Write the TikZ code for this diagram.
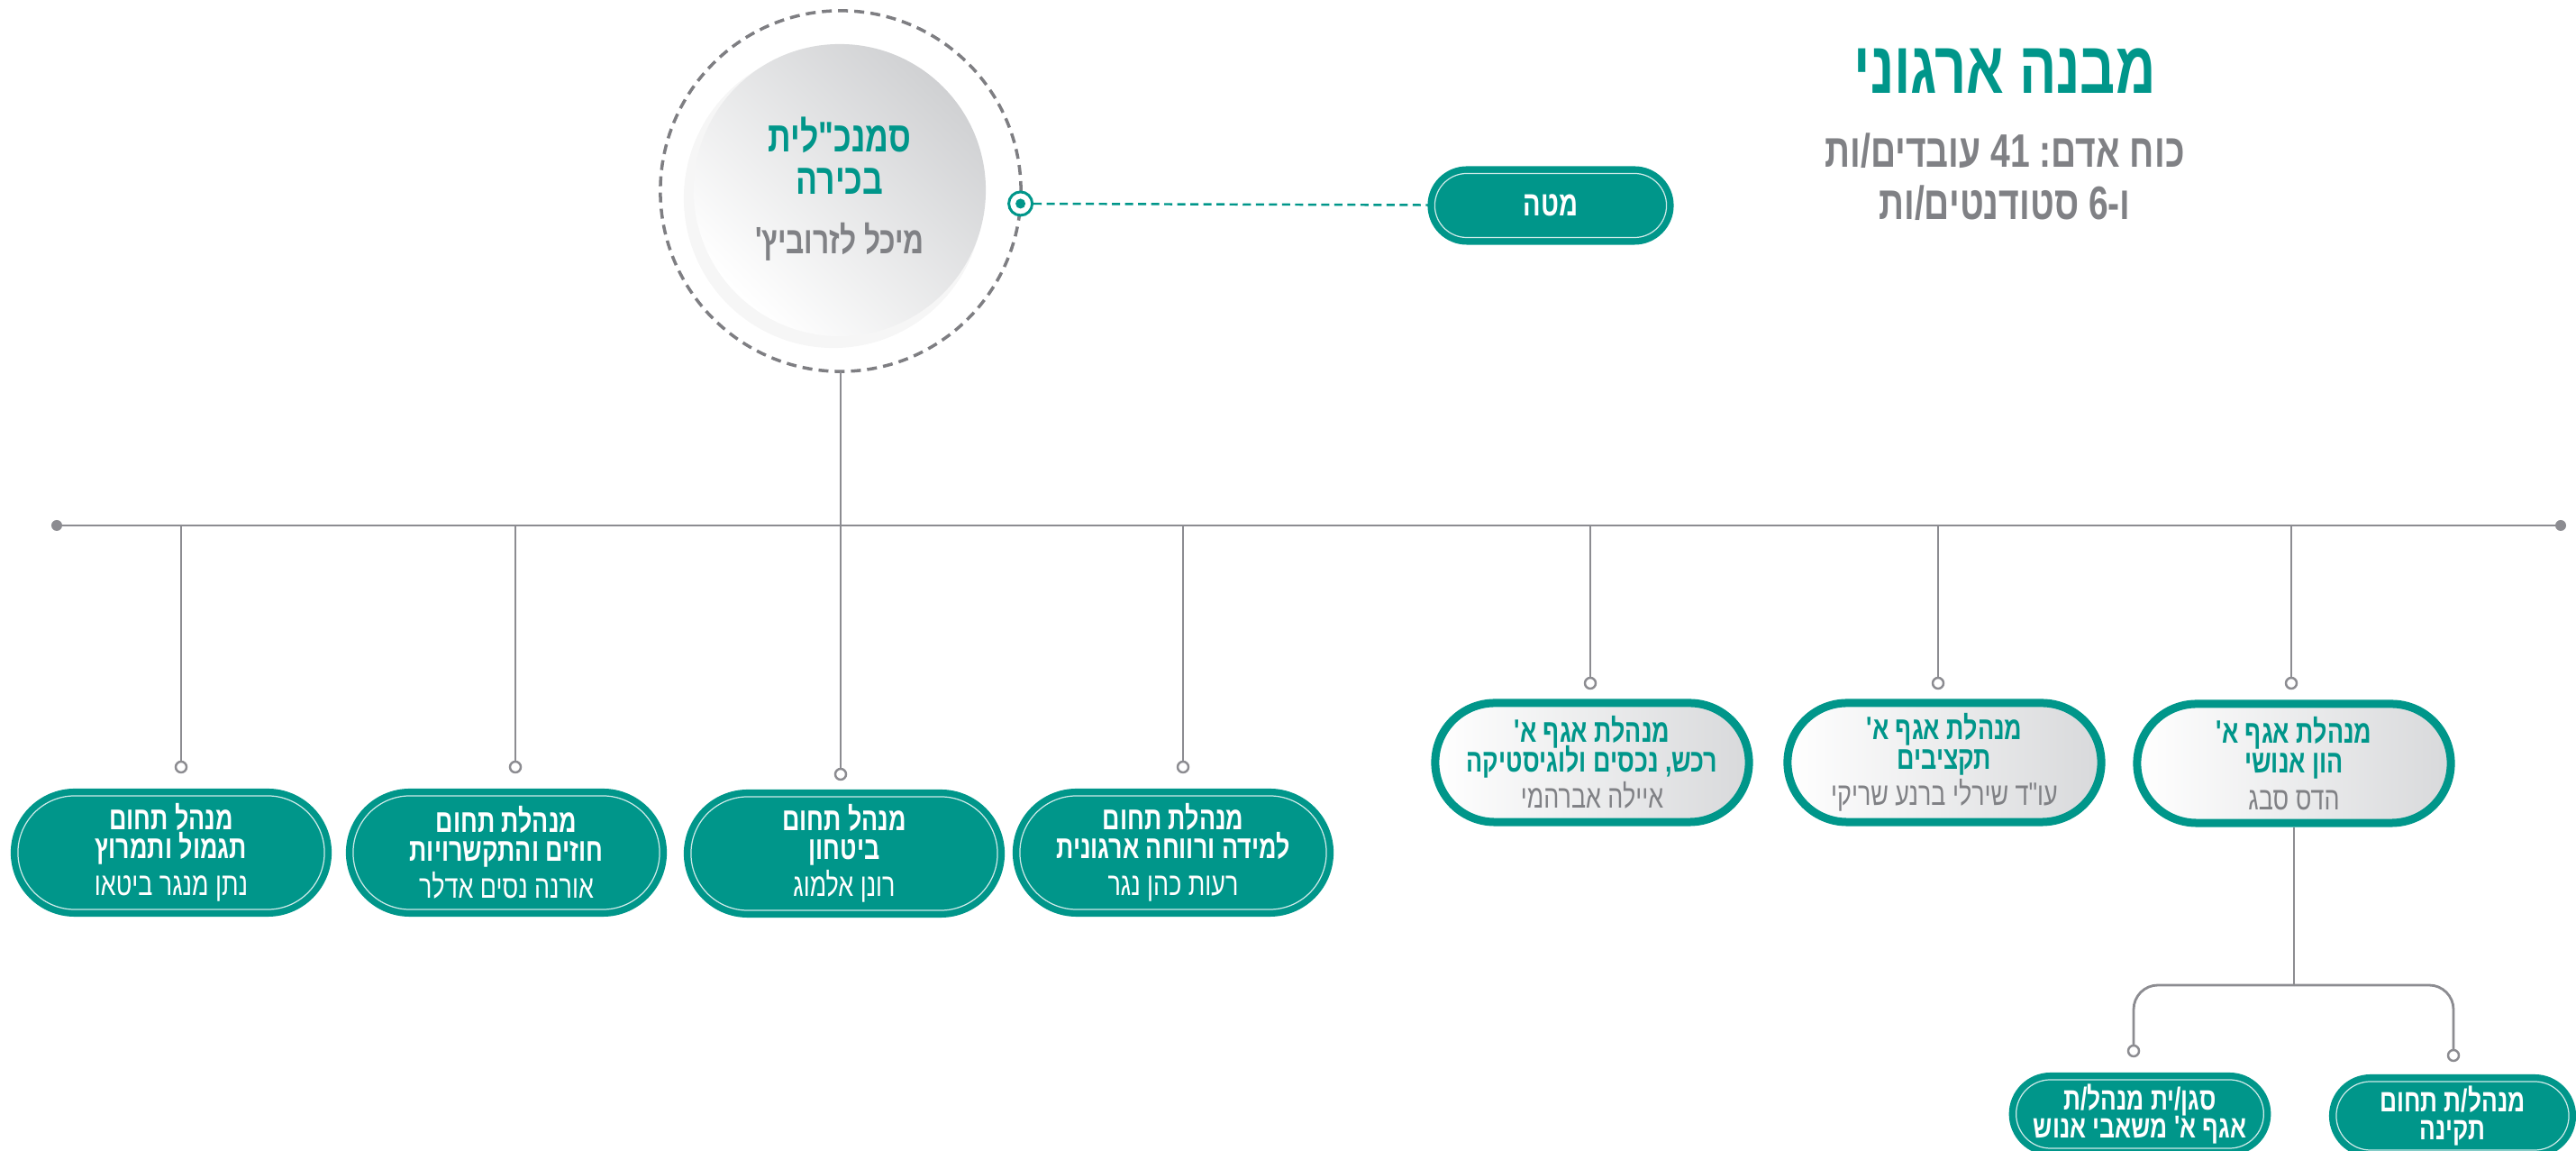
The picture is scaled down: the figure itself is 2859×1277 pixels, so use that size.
\documentclass[tikz,border=0pt]{standalone}
\usepackage{fontspec}
\usetikzlibrary{shapes.misc}
\newfontfamily\hebfont[Script=Hebrew,FakeStretch=0.75]{Liberation Sans}
\TeXXeTstate=1
\setlength{\lineskiplimit}{-20pt}
\newcommand{\heb}[1]{\beginR#1\endR}
\definecolor{orgteal}{RGB}{0,150,138}
\definecolor{orggray}{RGB}{128,129,133}
\definecolor{linegray}{RGB}{140,140,145}
\definecolor{pillgray}{RGB}{216,217,219}
\definecolor{circgray}{RGB}{208,209,211}
\tikzset{
  pill/.style={rounded rectangle, fill=orgteal, draw=white!80!orgteal, line width=0.35pt,
    preaction={draw=orgteal, line width=0.16cm}, inner sep=0pt, align=center, text=white,
    minimum width=3.4cm, minimum height=1.26cm,
    font=\hebfont\fontsize{10.2}{9.1}\selectfont},
  greypill/.style={rounded rectangle, draw=orgteal, line width=0.09cm, left color=white,
    right color=pillgray, inner sep=0pt, align=center, text=orggray,
    minimum width=3.48cm, minimum height=1.32cm,
    font=\hebfont\fontsize{10.2}{9.3}\selectfont},
  bus/.style={draw=linegray, line width=0.8pt},
  endring/.style={circle, draw=linegray, fill=white, line width=0.7pt, inner sep=0pt, minimum size=0.12cm},
  enddot/.style={circle, fill=linegray, inner sep=0pt, minimum size=0.12cm},
}
\begin{document}
\begin{tikzpicture}[x=0.01cm,y=-0.01cm]
\useasboundingbox (0,0) rectangle (2859,1277);
\node [font=\hebfont\bfseries\fontsize{23.2}{24}\selectfont, text=orgteal] (title) at (2225,79) {\heb{מבנה ארגוני}};
\node [font=\hebfont\bfseries\fontsize{14.8}{16.5}\selectfont, text=orggray, align=center] (headcount) at (2225,196) {\heb{כוח אדם:\beginL\ 41 \endL עובדים/ות}\\\heb{ו-6 סטודנטים/ות}};
\fill [gray!7] (925,220) circle (1.66cm);
\shade [top color=circgray, middle color=circgray, bottom color=white, shading angle=-45] (932,211) circle (1.62cm);
\node [circle, draw=linegray!90!black, line width=1pt, dash pattern=on 0.11cm off 0.07cm, minimum size=4cm, inner sep=0pt, outer sep=0pt] (chief) at (933,212) {};
\node [font=\hebfont\bfseries\fontsize{13.5}{10.5}\selectfont, text=orgteal, align=center] (chieftitle) at (932,173) {\heb{סמנכ"לית}\\[0.1cm]\heb{בכירה}};
\node [font=\hebfont\bfseries\fontsize{12}{12}\selectfont, text=orggray] (chiefname) at (932,268) {\heb{מיכל לזרוביץ'}};
\node [circle, draw=orgteal, fill=white, line width=0.85pt, minimum size=0.26cm, inner sep=0pt] (target) at (chief.-4.6) {};
\fill [orgteal] (target) circle (0.055cm);
\node [pill, minimum width=2.57cm, minimum height=0.71cm, font=\hebfont\bfseries\fontsize{11}{12}\selectfont] (staff) at (1721,228) {\heb{מטה}};
\draw [orgteal, line width=0.7pt, dash pattern=on 0.09cm off 0.055cm] (target) -- (staff);
\coordinate (busL) at (63,583);
\coordinate (busR) at (2842,583);
\draw [bus] (busL) -- (busR);
\node [enddot] (dotL) at (busL) {};
\node [enddot] (dotR) at (busR) {};
\node [endring] (e1) at (201,851) {};
\node [endring] (e2) at (572,851) {};
\node [endring] (e3) at (933,859) {};
\node [endring] (e4) at (1313,851) {};
\node [endring] (e5) at (1765,758) {};
\node [endring] (e6) at (2151,758) {};
\node [endring] (e7) at (2543,758) {};
\draw [bus] (chief.south) -- (e3.north);
\foreach \e in {e1,e2,e4,e5,e6,e7}
  \draw [bus] (\e |- busL) -- (\e.north);
\node [pill] (b1) at (190,946) {\textbf{\heb{מנהל תחום}}\\\textbf{\heb{תגמול ותמרוץ}}\\[0.09cm]\heb{נתן מנגר ביטאו}};
\node [pill] (b2) at (562,946) {\textbf{\heb{מנהלת תחום}}\\\textbf{\heb{חוזים והתקשרויות}}\\[0.09cm]\heb{אורנה נסים אדלר}};
\node [pill] (b3) at (937,947) {\textbf{\heb{מנהל תחום}}\\\textbf{\heb{ביטחון}}\\[0.09cm]\heb{רונן אלמוג}};
\node [pill] (b4) at (1302,946) {\textbf{\heb{מנהלת תחום}}\\\textbf{\heb{למידה ורווחה ארגונית}}\\[0.09cm]\heb{רעות כהן נגר}};
\node [greypill] (b5) at (1767,846) {\textcolor{orgteal}{\textbf{\heb{מנהלת אגף א'}}}\\\textcolor{orgteal}{\textbf{\heb{רכש, נכסים ולוגיסטיקה}}}\\[0.08cm]\heb{איילה אברהמי}};
\node [greypill] (b6) at (2158,846) {\textcolor{orgteal}{\textbf{\heb{מנהלת אגף א'}}}\\\textcolor{orgteal}{\textbf{\heb{תקציבים}}}\\[0.08cm]\heb{עו"ד שירלי ברנע שריקי}};
\node [greypill] (b7) at (2546,847) {\textcolor{orgteal}{\textbf{\heb{מנהלת אגף א'}}}\\\textcolor{orgteal}{\textbf{\heb{הון אנושי}}}\\[0.08cm]\heb{הדס סבג}};
\coordinate (fork) at (2546,1093);
\node [endring] (s1) at (2368,1166) {};
\node [endring] (s2) at (2723,1171) {};
\draw [bus] (b7.south) -- (fork);
\draw [bus, rounded corners=0.27cm] (fork) -| (s1.north);
\draw [bus, rounded corners=0.27cm] (fork) -| (s2.north);
\node [pill, minimum width=2.56cm, minimum height=0.76cm, font=\hebfont\bfseries\fontsize{10}{8.8}\selectfont] (sb1) at (2375,1236) {\heb{סגן/ית מנהל/ת}\\\heb{אגף א' משאבי אנוש}};
\node [pill, minimum width=2.58cm, minimum height=0.76cm, font=\hebfont\bfseries\fontsize{10}{8.8}\selectfont] (sb2) at (2722,1238) {\heb{מנהל/ת תחום}\\\heb{תקינה}};
\end{tikzpicture}
\end{document}
